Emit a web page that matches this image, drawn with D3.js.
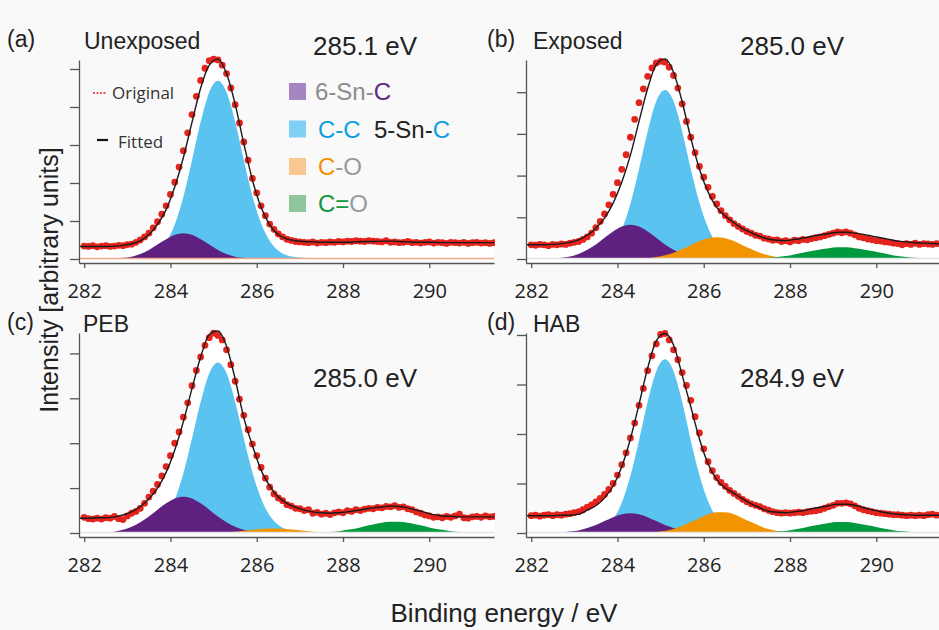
<!DOCTYPE html>
<html>
<head>
<meta charset="utf-8">
<script src="https://cdn.jsdelivr.net/npm/d3@7"></script>
<style>
	body { margin: 0; background: #f9f9f9; }
	svg { display: block; }
</style>
</head>
<body>
<svg id="chart" width="939" height="630"></svg>
<script>
// energy grids (eV): fitted curves / components, and measured points
const fitEnergy = [
	281.9, 282.1, 282.3, 282.5, 282.7, 282.9, 283.1, 283.3, 283.5, 283.7,
	283.9, 284.1, 284.3, 284.5, 284.7, 284.9, 285.1, 285.3, 285.5, 285.7,
	285.9, 286.1, 286.3, 286.5, 286.7, 286.9, 287.1, 287.3, 287.5, 287.7,
	287.9, 288.1, 288.3, 288.5, 288.7, 288.9, 289.1, 289.3, 289.5, 289.7,
	289.9, 290.1, 290.3, 290.5, 290.7, 290.9, 291.1, 291.3, 291.5
];
const dotEnergy = [
	282.0, 282.1, 282.2, 282.3, 282.4, 282.5, 282.6, 282.7, 282.8, 282.9,
	283.0, 283.1, 283.2, 283.3, 283.4, 283.5, 283.6, 283.7, 283.8, 283.9,
	284.0, 284.1, 284.2, 284.3, 284.4, 284.5, 284.6, 284.7, 284.8, 284.9,
	285.0, 285.1, 285.2, 285.3, 285.4, 285.5, 285.6, 285.7, 285.8, 285.9,
	286.0, 286.1, 286.2, 286.3, 286.4, 286.5, 286.6, 286.7, 286.8, 286.9,
	287.0, 287.1, 287.2, 287.3, 287.4, 287.5, 287.6, 287.7, 287.8, 287.9,
	288.0, 288.1, 288.2, 288.3, 288.4, 288.5, 288.6, 288.7, 288.8, 288.9,
	289.0, 289.1, 289.2, 289.3, 289.4, 289.5, 289.6, 289.7, 289.8, 289.9,
	290.0, 290.1, 290.2, 290.3, 290.4, 290.5, 290.6, 290.7, 290.8, 290.9,
	291.0, 291.1, 291.2, 291.3, 291.4, 291.5
];
const xTicks = [282, 284, 286, 288, 290];

const panelLetters = ["(a)", "(b)", "(c)", "(d)"];
const panelNames = ["Unexposed", "Exposed", "PEB", "HAB"];
const peakLabels = ["285.1 eV", "285.0 eV", "285.0 eV", "284.9 eV"];

// (a) Unexposed
const originalA = [
	0.34,0.33,0.35,0.32,0.34,0.35,0.33,0.34,0.36,0.35,
	0.38,0.39,0.44,0.50,0.58,0.68,0.82,0.98,1.18,1.40,
	1.70,2.02,2.42,2.85,3.32,3.80,4.28,4.70,5.02,5.22,
	5.26,5.24,5.10,4.88,4.50,4.06,3.58,3.08,2.60,2.12,
	1.74,1.40,1.14,0.92,0.78,0.66,0.58,0.52,0.49,0.46,
	0.45,0.44,0.43,0.45,0.42,0.44,0.43,0.45,0.44,0.46,
	0.45,0.47,0.46,0.48,0.47,0.46,0.48,0.47,0.46,0.45,
	0.48,0.44,0.45,0.43,0.44,0.46,0.43,0.44,0.42,0.44,
	0.45,0.42,0.44,0.43,0.41,0.44,0.43,0.42,0.44,0.41,
	0.43,0.44,0.42,0.43,0.41,0.43
];
const fittedA = [
	0.33,0.33,0.33,0.33,0.34,0.36,0.40,0.48,0.64,0.91,
	1.30,1.90,2.67,3.60,4.50,5.10,5.26,4.88,4.07,3.04,
	2.08,1.36,0.90,0.64,0.53,0.48,0.46,0.45,0.44,0.44,
	0.44,0.44,0.45,0.46,0.46,0.47,0.47,0.46,0.45,0.44,
	0.44,0.44,0.43,0.43,0.43,0.43,0.43,0.43,0.43
];
const sixSnA = [
	0,0,0,0,0.01,0.03,0.06,0.13,0.24,0.38,
	0.52,0.64,0.68,0.64,0.52,0.38,0.24,0.13,0.06,0.03,
	0.01,0,0,0,0,0,0,0,0,0,
	0,0,0,0,0,0,0,0,0,0,
	0,0,0,0,0,0,0,0,0
];
const ccA = [
	0,0,0,0,0,0,0.01,0.02,0.07,0.19,
	0.44,0.91,1.64,2.60,3.61,4.39,4.69,4.39,3.61,2.60,
	1.66,0.94,0.48,0.22,0.10,0.05,0.03,0.02,0.01,0,
	0,0,0,0,0,0,0,0,0,0,
	0,0,0,0,0,0,0,0,0
];
const coA = [
	0,0,0,0,0,0,0,0,0,0,
	0,0,0,0,0,0,0,0,0,0,
	0,0,0,0,0,0,0,0,0,0,
	0,0,0,0,0,0,0,0,0,0,
	0,0,0,0,0,0,0,0,0
];
const c2oA = [
	0,0,0,0,0,0,0,0,0,0,
	0,0,0,0,0,0,0,0,0,0,
	0,0,0,0,0,0,0,0,0,0,
	0,0,0,0,0,0,0,0,0,0,
	0,0,0,0,0,0,0,0,0
];

// (b) Exposed
const originalB = [
	0.34,0.33,0.35,0.34,0.32,0.35,0.34,0.36,0.35,0.38,
	0.40,0.42,0.47,0.53,0.62,0.75,0.90,1.08,1.30,1.55,
	1.83,2.15,2.50,2.92,3.35,3.75,4.08,4.38,4.58,4.70,
	4.74,4.72,4.60,4.40,4.10,3.72,3.30,2.92,2.55,2.22,
	1.96,1.72,1.50,1.32,1.16,1.04,0.94,0.85,0.78,0.72,
	0.66,0.62,0.57,0.55,0.50,0.48,0.45,0.46,0.42,0.44,
	0.41,0.45,0.44,0.47,0.46,0.49,0.51,0.53,0.56,0.59,
	0.62,0.65,0.63,0.65,0.62,0.58,0.53,0.51,0.48,0.46,
	0.44,0.43,0.41,0.40,0.38,0.37,0.34,0.37,0.35,0.38,
	0.35,0.37,0.36,0.35,0.37,0.35
];
const fittedB = [
	0.34,0.34,0.34,0.35,0.37,0.40,0.46,0.57,0.74,0.98,
	1.34,1.84,2.49,3.30,4.09,4.66,4.80,4.48,3.77,2.90,
	2.16,1.61,1.24,1.03,0.87,0.73,0.63,0.54,0.48,0.45,
	0.44,0.47,0.50,0.54,0.58,0.61,0.64,0.64,0.62,0.59,
	0.55,0.51,0.47,0.43,0.41,0.39,0.38,0.37,0.36
];
const sixSnB = [
	0,0,0,0.01,0.03,0.06,0.12,0.22,0.35,0.51,
	0.66,0.78,0.82,0.78,0.66,0.51,0.35,0.22,0.12,0.06,
	0.03,0.01,0,0,0,0,0,0,0,0,
	0,0,0,0,0,0,0,0,0,0,
	0,0,0,0,0,0,0,0,0
];
const ccB = [
	0,0,0,0,0,0,0,0.01,0.05,0.13,
	0.33,0.71,1.32,2.16,3.06,3.78,4.05,3.78,3.06,2.16,
	1.35,0.75,0.37,0.18,0.09,0.05,0.03,0.02,0.01,0,
	0,0,0,0,0,0,0,0,0,0,
	0,0,0,0,0,0,0,0,0
];
const coB = [
	0,0,0,0,0,0,0,0,0,0,
	0,0,0,0.01,0.02,0.05,0.09,0.15,0.24,0.33,
	0.43,0.50,0.52,0.50,0.43,0.33,0.24,0.15,0.09,0.05,
	0.02,0.01,0,0,0,0,0,0,0,0,
	0,0,0,0,0,0,0,0,0
];
const c2oB = [
	0,0,0,0,0,0,0,0,0,0,
	0,0,0,0,0,0,0,0,0,0,
	0,0,0,0,0,0,0.01,0.02,0.03,0.05,
	0.07,0.11,0.15,0.19,0.23,0.26,0.28,0.28,0.26,0.23,
	0.19,0.15,0.11,0.07,0.05,0.03,0.02,0.01,0
];

// (c) PEB
const originalC = [
	0.35,0.32,0.31,0.33,0.31,0.34,0.33,0.37,0.32,0.30,
	0.38,0.44,0.48,0.55,0.66,0.80,0.93,1.08,1.27,1.48,
	1.72,2.00,2.25,2.58,2.90,3.28,3.62,3.92,4.18,4.35,
	4.45,4.40,4.30,4.08,3.75,3.38,2.98,2.62,2.30,1.98,
	1.72,1.46,1.22,1.02,0.87,0.78,0.72,0.63,0.60,0.55,
	0.54,0.50,0.52,0.44,0.46,0.42,0.44,0.41,0.45,0.47,
	0.45,0.50,0.48,0.52,0.50,0.53,0.55,0.54,0.57,0.56,
	0.59,0.58,0.61,0.57,0.58,0.54,0.52,0.47,0.44,0.40,
	0.38,0.35,0.36,0.34,0.37,0.35,0.38,0.42,0.34,0.33,
	0.36,0.37,0.35,0.38,0.36,0.37
];
const fittedC = [
	0.33,0.33,0.34,0.34,0.36,0.40,0.47,0.59,0.76,1.00,
	1.35,1.85,2.48,3.22,3.92,4.42,4.50,4.16,3.43,2.57,
	1.95,1.40,1.05,0.80,0.66,0.57,0.51,0.47,0.45,0.44,
	0.45,0.47,0.50,0.53,0.56,0.58,0.60,0.59,0.56,0.51,
	0.46,0.41,0.38,0.37,0.36,0.36,0.36,0.36,0.36
];
const sixSnC = [
	0,0,0.01,0.01,0.03,0.07,0.14,0.24,0.37,0.52,
	0.66,0.77,0.81,0.77,0.66,0.52,0.37,0.24,0.14,0.07,
	0.03,0.01,0.01,0,0,0,0,0,0,0,
	0,0,0,0,0,0,0,0,0,0,
	0,0,0,0,0,0,0,0,0
];
const ccC = [
	0,0,0,0,0,0,0,0.02,0.06,0.15,
	0.36,0.74,1.33,2.11,2.92,3.56,3.80,3.56,2.92,2.11,
	1.35,0.77,0.39,0.18,0.08,0.04,0.02,0.01,0,0,
	0,0,0,0,0,0,0,0,0,0,
	0,0,0,0,0,0,0,0,0
];
const coC = [
	0,0,0,0,0,0,0,0,0,0,
	0,0,0,0,0,0,0.01,0.02,0.03,0.05,
	0.07,0.09,0.10,0.10,0.09,0.07,0.05,0.03,0.02,0.01,
	0,0,0,0,0,0,0,0,0,0,
	0,0,0,0,0,0,0,0,0
];
const c2oC = [
	0,0,0,0,0,0,0,0,0,0,
	0,0,0,0,0,0,0,0,0,0,
	0,0,0,0,0,0,0,0,0.01,0.02,
	0.04,0.07,0.10,0.15,0.19,0.23,0.25,0.25,0.23,0.19,
	0.15,0.10,0.07,0.04,0.02,0.01,0,0,0
];

// (d) HAB
const originalD = [
	0.35,0.36,0.34,0.36,0.37,0.35,0.37,0.36,0.38,0.39,
	0.41,0.43,0.47,0.52,0.57,0.63,0.70,0.78,0.88,1.00,
	1.17,1.38,1.62,1.92,2.22,2.58,2.92,3.28,3.58,3.82,
	4.01,4.03,3.90,3.70,3.50,3.24,2.98,2.68,2.35,2.02,
	1.70,1.44,1.26,1.12,1.02,0.94,0.86,0.80,0.74,0.68,
	0.63,0.59,0.56,0.53,0.49,0.46,0.43,0.41,0.40,0.41,
	0.40,0.41,0.42,0.41,0.43,0.44,0.45,0.47,0.50,0.53,
	0.56,0.60,0.60,0.61,0.59,0.55,0.50,0.47,0.45,0.43,
	0.41,0.40,0.39,0.38,0.37,0.37,0.36,0.35,0.36,0.35,
	0.36,0.35,0.37,0.38,0.36,0.37
];
const fittedD = [
	0.35,0.35,0.35,0.35,0.36,0.36,0.38,0.46,0.55,0.71,
	0.95,1.34,1.90,2.60,3.33,3.88,4.03,3.80,3.19,2.55,
	1.90,1.40,1.08,0.91,0.80,0.69,0.59,0.51,0.44,0.42,
	0.41,0.43,0.45,0.49,0.52,0.55,0.58,0.58,0.56,0.51,
	0.47,0.43,0.40,0.38,0.37,0.36,0.36,0.36,0.36
];
const sixSnD = [
	0,0,0,0,0.01,0.03,0.05,0.10,0.16,0.24,
	0.32,0.38,0.40,0.38,0.32,0.24,0.16,0.10,0.05,0.03,
	0.01,0,0,0,0,0,0,0,0,0,
	0,0,0,0,0,0,0,0,0,0,
	0,0,0,0,0,0,0,0,0
];
const ccD = [
	0,0,0,0,0,0,0,0.01,0.04,0.12,
	0.28,0.61,1.15,1.87,2.65,3.27,3.51,3.27,2.65,1.87,
	1.17,0.64,0.31,0.14,0.07,0.04,0.02,0.01,0,0,
	0,0,0,0,0,0,0,0,0,0,
	0,0,0,0,0,0,0,0,0
];
const coD = [
	0,0,0,0,0,0,0,0,0,0,
	0,0,0,0,0.01,0.02,0.04,0.08,0.14,0.22,
	0.30,0.38,0.42,0.42,0.38,0.30,0.22,0.14,0.08,0.04,
	0.02,0.01,0,0,0,0,0,0,0,0,
	0,0,0,0,0,0,0,0,0
];
const c2oD = [
	0,0,0,0,0,0,0,0,0,0,
	0,0,0,0,0,0,0,0,0,0,
	0,0,0,0,0,0,0,0.01,0.01,0.03,
	0.04,0.07,0.10,0.14,0.17,0.20,0.22,0.22,0.20,0.17,
	0.14,0.10,0.07,0.04,0.03,0.01,0.01,0,0
];

const originals = [originalA, originalB, originalC, originalD];
const fits = [fittedA, fittedB, fittedC, fittedD];
// drawing order: C-C first, then 6-Sn-C, C-O, C=O on top
const components = [
	[ccA, sixSnA, coA, c2oA],
	[ccB, sixSnB, coB, c2oB],
	[ccC, sixSnC, coC, c2oC],
	[ccD, sixSnD, coD, c2oD]
];
const yTicks = [[0, 1, 2, 3, 4, 5], [0, 1, 2, 3, 4], [0, 1, 2, 3, 4], [0, 1, 2, 3, 4]];

const compColors = ["#5bc3ef", "#5f2180", "#f29400", "#00993e"];
const dotColor = "#e5231d";

// panel geometry: y-axis x, zero line y, px per unit, axis top, title spots
const layout = [
	{ x0: 79, base: 259, unit: 38, top: 60, lx: 7, nx: 84, ly: 49, px: 313, py: 55, baseColor: "#f3a98c" },
	{ x0: 526, base: 259, unit: 41.7, top: 60, lx: 487, nx: 533, ly: 49, px: 740, py: 55, baseColor: "#e4e4e4" },
	{ x0: 79, base: 533, unit: 44.9, top: 333, lx: 7, nx: 83, ly: 332, px: 313, py: 387, baseColor: "#e4e4e4" },
	{ x0: 526, base: 533, unit: 49.5, top: 333, lx: 487, nx: 533, ly: 332, px: 740, py: 387, baseColor: "#e4e4e4" }
];

const svg = d3.select("#chart");
svg.append("rect").attr("width", 939).attr("height", 630).attr("fill", "#f9f9f9");

const titleFont = "'Liberation Sans', Arial, sans-serif";
const tickFont = "'Open Sans', sans-serif";

layout.forEach((L, i) => {
	const plotW = 415;
	const axisY = L.base + 4;
	const x = d3.scaleLinear().domain([281.88, 291.5]).range([L.x0, L.x0 + plotW]);
	const y = d3.scaleLinear().domain([0, 1]).range([L.base, L.base - L.unit]);

	const g = svg.append("g");
	g.append("clipPath").attr("id", "clip" + i)
		.append("rect")
		.attr("x", L.x0 + 1).attr("y", 0)
		.attr("width", plotW).attr("height", axisY);
	const plot = g.append("g").attr("clip-path", `url(#clip${i})`);

	const fitPts = fitEnergy.map((e, k) => [e, fits[i][k]]);

	// white envelope under the fitted curve
	plot.append("path")
		.datum(fitPts)
		.attr("fill", "#ffffff")
		.attr("d", d3.area()
			.x(d => x(d[0]))
			.y0(axisY)
			.y1(d => y(d[1]))
			.curve(d3.curveMonotoneX));

	components[i].forEach((comp, c) => {
		plot.append("path")
			.datum(fitEnergy.map((e, k) => [e, comp[k]]))
			.attr("fill", compColors[c])
			.attr("d", d3.area()
				.x(d => x(d[0]))
				.y0(y(0))
				.y1(d => y(d[1]))
				.curve(d3.curveMonotoneX));
	});

	plot.append("line")
		.attr("x1", x(281.9)).attr("x2", x(291.5))
		.attr("y1", y(0) - 0.5).attr("y2", y(0) - 0.5)
		.attr("stroke", L.baseColor)
		.attr("stroke-width", 1.5);

	plot.selectAll("circle")
		.data(dotEnergy.map((e, k) => [e, originals[i][k]]))
		.enter()
		.append("circle")
		.attr("cx", d => x(d[0]))
		.attr("cy", d => y(d[1]))
		.attr("r", 3.4)
		.attr("fill", dotColor);

	plot.append("path")
		.datum(fitPts)
		.attr("fill", "none")
		.attr("stroke", "#1a1a1a")
		.attr("stroke-width", 1.4)
		.attr("d", d3.line()
			.x(d => x(d[0]))
			.y(d => y(d[1]))
			.curve(d3.curveMonotoneX));

	// axes
	const xAxis = g.append("g")
		.attr("transform", `translate(0,${axisY})`)
		.call(d3.axisBottom(x).tickValues(xTicks).tickSize(5).tickSizeOuter(0).tickPadding(16));
	const yAxisScale = y.copy().domain([y.invert(axisY), y.invert(L.top)]).range([axisY, L.top]);
	const yAxis = g.append("g")
		.attr("transform", `translate(${L.x0},0)`)
		.call(d3.axisLeft(yAxisScale).tickValues(yTicks[i]).tickSize(9).tickSizeOuter(0).tickFormat(""));

	[xAxis, yAxis].forEach(a => {
		a.select(".domain").attr("stroke", "#555").attr("stroke-width", 1.3);
		a.selectAll(".tick line").attr("stroke", "#555").attr("stroke-width", 1.3);
	});
	xAxis.selectAll(".tick text")
		.attr("fill", "#222")
		.attr("font-family", tickFont)
		.attr("font-size", "20px");

	// panel titles
	g.append("text")
		.attr("x", L.lx).attr("y", L.ly - 2)
		.attr("font-family", titleFont).attr("font-size", "23px").attr("fill", "#222")
		.text(panelLetters[i]);
	g.append("text")
		.attr("x", L.nx).attr("y", L.ly)
		.attr("font-family", titleFont).attr("font-size", "23px").attr("fill", "#222")
		.text(panelNames[i]);
	g.append("text")
		.attr("x", L.px).attr("y", L.py)
		.attr("font-family", titleFont).attr("font-size", "26px").attr("fill", "#222")
		.text(peakLabels[i]);
});

// legend inside panel (a)
const legend = svg.append("g");
legend.append("line")
	.attr("x1", 93).attr("x2", 106).attr("y1", 93).attr("y2", 93)
	.attr("stroke", dotColor).attr("stroke-width", 1.6).attr("stroke-dasharray", "2,1.5");
legend.append("text").attr("x", 112).attr("y", 99)
	.attr("font-family", tickFont).attr("font-size", "17px").attr("fill", "#333")
	.text("Original");
legend.append("line")
	.attr("x1", 97).attr("x2", 108).attr("y1", 140).attr("y2", 140)
	.attr("stroke", "#111").attr("stroke-width", 2.2);
legend.append("text").attr("x", 118).attr("y", 148)
	.attr("font-family", tickFont).attr("font-size", "17px").attr("fill", "#333")
	.text("Fitted");

const legendSwatches = ["#a686c2", "#80cff4", "#f8c890", "#8fc69c"];
const legendRows = [
	[["6-Sn-", "#8c8c8c"], ["C", "#5b2a86"]],
	[["C-C", "#0fa0e0"], ["\u00a0\u00a05-Sn-", "#222"], ["C", "#0fa0e0"]],
	[["C", "#f39200"], ["-O", "#999"]],
	[["C=", "#12983a"], ["O", "#999"]]
];
const legendBase = [100, 137.5, 175, 212];
legendRows.forEach((row, r) => {
	legend.append("rect")
		.attr("x", 289).attr("y", legendBase[r] - 17)
		.attr("width", 17).attr("height", 17)
		.attr("fill", legendSwatches[r]);
	const t = legend.append("text")
		.attr("x", r === 0 ? 315 : 318).attr("y", legendBase[r])
		.attr("font-family", titleFont).attr("font-size", "24px");
	row.forEach(([s, col]) => t.append("tspan").attr("fill", col).text(s));
});

// axis titles
svg.append("text")
	.attr("transform", "translate(58,280) rotate(-90)")
	.attr("text-anchor", "middle")
	.attr("font-family", titleFont).attr("font-size", "25px").attr("fill", "#222")
	.text("Intensity [arbitrary units]");
svg.append("text")
	.attr("x", 504).attr("y", 622)
	.attr("text-anchor", "middle")
	.attr("font-family", titleFont).attr("font-size", "26px").attr("fill", "#222")
	.text("Binding energy / eV");
</script>
</body>
</html>
